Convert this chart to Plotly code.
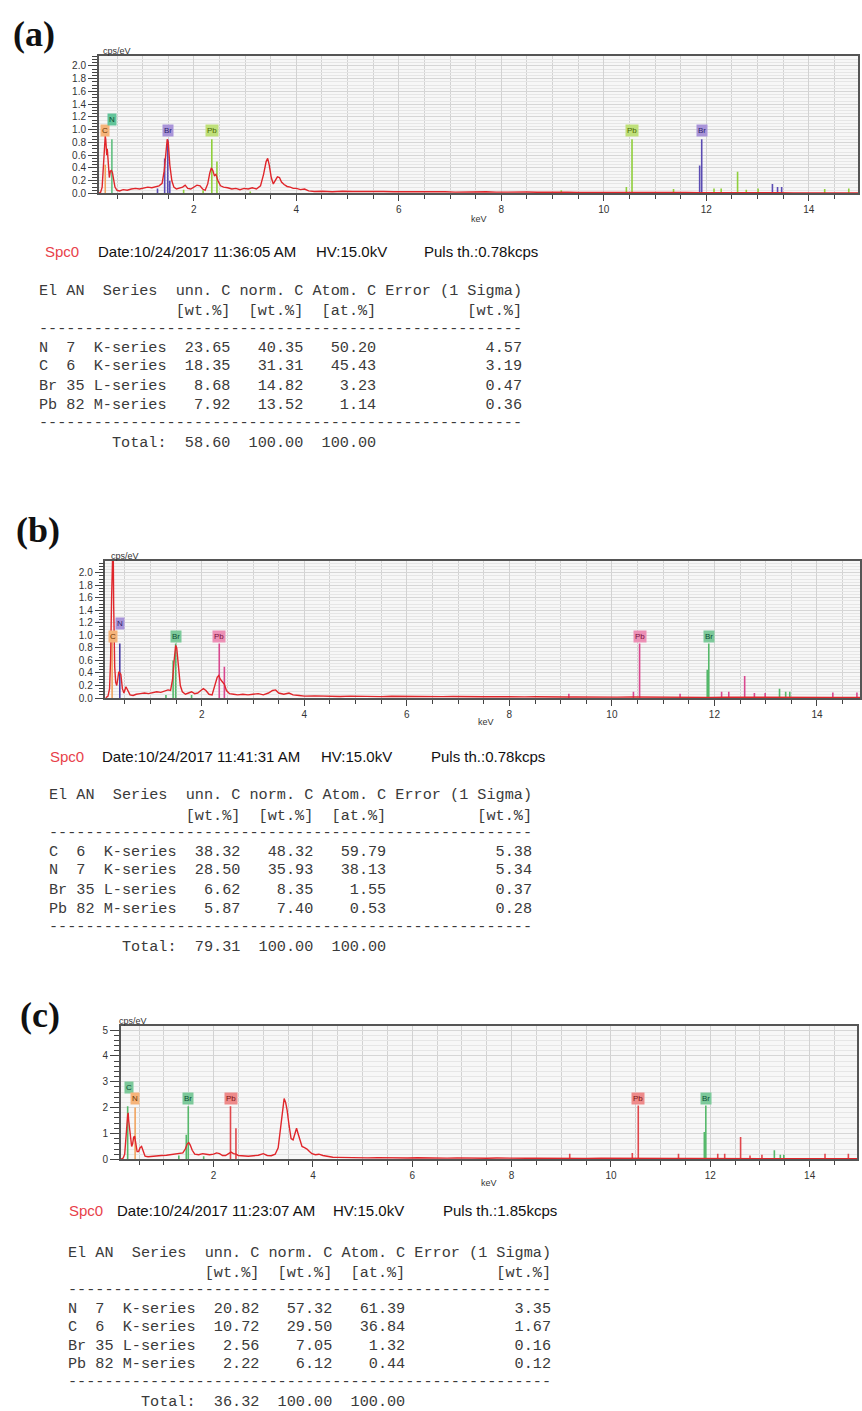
import plotly.graph_objects as go

W, H = 862, 1411

# ---------------- spectra (keV, cps/eV) ----------------
tail_x = [4.5, 4.7, 4.9, 5.1, 5.3, 5.5, 5.7, 5.9, 6.1, 6.3,
          6.5, 6.7, 6.9, 7.1, 7.3, 7.5, 7.7, 7.9, 8.1, 8.3,
          8.5, 8.7, 8.9, 9.1, 9.3, 9.5, 9.8, 10.1, 10.4, 10.7,
          11.0, 11.3, 11.6, 11.9, 12.2, 12.5, 12.8, 13.1, 13.4, 13.7,
          14.0, 14.3, 14.6, 14.96]

a_x = [0.14, 0.18, 0.21, 0.23, 0.25, 0.27, 0.28, 0.30, 0.31, 0.33,
       0.35, 0.37, 0.39, 0.41, 0.43, 0.46, 0.50, 0.55, 0.62, 0.70,
       0.78, 0.86, 0.94, 1.02, 1.10, 1.18, 1.26, 1.32, 1.38, 1.42,
       1.45, 1.48, 1.50, 1.53, 1.57, 1.61, 1.66, 1.72, 1.78, 1.83,
       1.88, 1.94, 2.00, 2.06, 2.12, 2.17, 2.22, 2.27, 2.31, 2.34,
       2.37, 2.40, 2.43, 2.47, 2.52, 2.58, 2.66, 2.74, 2.82, 2.90,
       2.98, 3.06, 3.14, 3.22, 3.30, 3.36, 3.41, 3.44, 3.47, 3.51,
       3.55, 3.59, 3.63, 3.67, 3.71, 3.76, 3.82, 3.88, 3.94, 4.00,
       4.08, 4.16, 4.24, 4.35] + tail_x
a_y = [0.00, 0.02, 0.10, 0.45, 0.75, 0.90, 0.85, 0.60, 0.70, 0.35,
       0.25, 0.35, 0.36, 0.33, 0.20, 0.10, 0.05, 0.04, 0.06, 0.05,
       0.07, 0.08, 0.07, 0.09, 0.10, 0.09, 0.11, 0.12, 0.16, 0.35,
       0.60, 0.85, 0.80, 0.45, 0.20, 0.10, 0.07, 0.08, 0.10, 0.13,
       0.08, 0.07, 0.10, 0.13, 0.12, 0.07, 0.05, 0.15, 0.32, 0.40,
       0.36, 0.28, 0.30, 0.20, 0.12, 0.10, 0.09, 0.07, 0.08, 0.06,
       0.08, 0.07, 0.09, 0.07, 0.12, 0.30, 0.50, 0.55, 0.45, 0.25,
       0.15, 0.20, 0.26, 0.25, 0.18, 0.14, 0.11, 0.10, 0.08, 0.08,
       0.06, 0.07, 0.04, 0.03,
       0.035, 0.028, 0.036, 0.030, 0.033, 0.026, 0.032, 0.028, 0.030, 0.024,
       0.029, 0.025, 0.028, 0.022, 0.027, 0.024, 0.026, 0.021, 0.025, 0.020,
       0.023, 0.019, 0.022, 0.018, 0.021, 0.017, 0.018, 0.015, 0.017, 0.014,
       0.016, 0.013, 0.015, 0.012, 0.014, 0.012, 0.013, 0.011, 0.012, 0.010,
       0.011, 0.010, 0.011, 0.010]

b_x = [0.12, 0.17, 0.20, 0.22, 0.24, 0.26, 0.27, 0.28, 0.30, 0.32,
       0.34, 0.36, 0.38, 0.40, 0.42, 0.45, 0.48, 0.52, 0.55, 0.60,
       0.66, 0.72, 0.80, 0.88, 0.96, 1.04, 1.12, 1.20, 1.28, 1.34,
       1.39, 1.43, 1.46, 1.49, 1.51, 1.54, 1.58, 1.62, 1.68, 1.74,
       1.80, 1.86, 1.92, 1.98, 2.03, 2.08, 2.14, 2.20, 2.26, 2.30,
       2.33, 2.36, 2.40, 2.44, 2.48, 2.54, 2.62, 2.70, 2.80, 2.90,
       3.00, 3.10, 3.20, 3.30, 3.38, 3.44, 3.50, 3.60, 3.70, 3.78,
       3.90, 4.00, 4.20, 4.35] + tail_x
b_y = [0.00, 0.03, 0.15, 0.60, 1.60, 2.60, 2.60, 1.50, 0.50, 0.25,
       0.20, 0.30, 0.42, 0.40, 0.38, 0.15, 0.08, 0.18, 0.12, 0.05,
       0.04, 0.06, 0.07, 0.08, 0.07, 0.09, 0.10, 0.09, 0.11, 0.13,
       0.12, 0.30, 0.60, 0.84, 0.80, 0.50, 0.20, 0.10, 0.06, 0.08,
       0.10, 0.07, 0.08, 0.12, 0.15, 0.12, 0.06, 0.05, 0.20, 0.33,
       0.36, 0.30, 0.26, 0.22, 0.12, 0.07, 0.06, 0.05, 0.06, 0.05,
       0.06, 0.07, 0.05, 0.08, 0.12, 0.13, 0.08, 0.06, 0.08, 0.05,
       0.04, 0.03, 0.035, 0.03,
       0.030, 0.024, 0.031, 0.026, 0.029, 0.023, 0.028, 0.025, 0.027, 0.021,
       0.026, 0.022, 0.025, 0.020, 0.024, 0.021, 0.023, 0.019, 0.022, 0.018,
       0.021, 0.017, 0.020, 0.016, 0.019, 0.015, 0.017, 0.014, 0.016, 0.013,
       0.015, 0.012, 0.014, 0.011, 0.013, 0.011, 0.012, 0.010, 0.011, 0.010,
       0.010, 0.009, 0.010, 0.009]

c_x = [0.13, 0.18, 0.21, 0.23, 0.25, 0.27, 0.28, 0.29, 0.31, 0.33,
       0.35, 0.37, 0.39, 0.41, 0.43, 0.46, 0.49, 0.52, 0.55, 0.58,
       0.62, 0.68, 0.75, 0.85, 0.95, 1.05, 1.15, 1.25, 1.32, 1.38,
       1.43, 1.47, 1.50, 1.53, 1.57, 1.62, 1.70, 1.78, 1.85, 1.92,
       2.00, 2.06, 2.12, 2.18, 2.24, 2.30, 2.35, 2.40, 2.45, 2.50,
       2.60, 2.70, 2.80, 2.90, 3.00, 3.08, 3.16, 3.24, 3.30, 3.35,
       3.39, 3.42, 3.45, 3.48, 3.52, 3.56, 3.60, 3.64, 3.67, 3.70,
       3.74, 3.78, 3.83, 3.88, 3.93, 3.98, 4.05, 4.12, 4.20, 4.30,
       4.40] + tail_x
c_y = [0.00, 0.05, 0.20, 0.60, 1.20, 1.70, 1.80, 1.50, 1.20, 0.80,
       0.50, 0.60, 0.85, 0.90, 0.60, 0.30, 0.30, 0.45, 0.50, 0.30,
       0.12, 0.10, 0.12, 0.13, 0.15, 0.16, 0.18, 0.20, 0.22, 0.25,
       0.40, 0.60, 0.65, 0.55, 0.35, 0.20, 0.18, 0.22, 0.20, 0.18,
       0.20, 0.25, 0.22, 0.15, 0.15, 0.22, 0.28, 0.22, 0.20, 0.15,
       0.13, 0.12, 0.14, 0.16, 0.22, 0.15, 0.14, 0.20, 0.45, 1.20,
       2.00, 2.35, 2.20, 1.90, 1.30, 0.80, 0.75, 1.05, 1.20, 1.00,
       0.70, 0.50, 0.45, 0.40, 0.30, 0.22, 0.18, 0.20, 0.15, 0.10,
       0.08,
       0.075, 0.060, 0.072, 0.058, 0.068, 0.055, 0.066, 0.052, 0.062, 0.050,
       0.060, 0.048, 0.057, 0.046, 0.055, 0.045, 0.052, 0.043, 0.050, 0.041,
       0.048, 0.040, 0.046, 0.038, 0.044, 0.036, 0.040, 0.034, 0.038, 0.032,
       0.036, 0.030, 0.034, 0.029, 0.032, 0.028, 0.030, 0.027, 0.029, 0.026,
       0.028, 0.025, 0.027, 0.025]

# ---------------- element marker lines ----------------
a_mark_el = ["C", "N", "Br", "Br", "Br", "Br", "Pb", "Pb", "Pb", "Pb", "Pb",
             "Pb", "Br", "Br",
             "Pb", "Pb", "Pb", "Pb", "Pb", "Pb", "Pb", "Pb", "Pb", "Pb",
             "Br", "Br", "Br"]
a_mark_x = [0.27, 0.40, 1.29, 1.43, 1.49, 1.53, 1.80, 2.18, 2.35, 2.45, 3.10,
            10.55, 11.87, 11.91,
            9.17, 10.44, 11.36, 12.15, 12.29, 12.61, 12.78, 13.01, 14.31, 14.78,
            13.29, 13.39, 13.47]
a_mark_h = [0.45, 0.85, 0.08, 0.55, 0.85, 0.20, 0.06, 0.05, 0.85, 0.50, 0.03,
            0.85, 0.44, 0.85,
            0.05, 0.10, 0.07, 0.08, 0.08, 0.34, 0.06, 0.08, 0.07, 0.08,
            0.15, 0.10, 0.10]

b_mark_el = ["C", "N", "Br", "Br", "Br", "Br", "Pb", "Pb",
             "Pb", "Br", "Br",
             "Pb", "Pb", "Pb", "Pb", "Pb", "Pb", "Pb", "Pb", "Pb", "Pb",
             "Br", "Br", "Br"]
b_mark_x = [0.25, 0.40, 1.30, 1.44, 1.49, 1.80, 2.34, 2.44,
            10.54, 11.86, 11.89,
            9.16, 10.42, 11.33, 12.14, 12.28, 12.59, 12.78, 12.99, 14.31, 14.78,
            13.27, 13.39, 13.47]
b_mark_h = [0.95, 0.87, 0.05, 0.60, 0.87, 0.05, 0.87, 0.50,
            0.87, 0.45, 0.87,
            0.07, 0.10, 0.07, 0.10, 0.10, 0.35, 0.08, 0.08, 0.09, 0.09,
            0.15, 0.10, 0.10]

c_mark_el = ["C", "N", "Br", "Br", "Br", "Br", "Pb", "Pb",
             "Pb", "Br", "Br",
             "Pb", "Pb", "Pb", "Pb", "Pb", "Pb", "Pb", "Pb", "Pb", "Pb",
             "Br", "Br", "Br"]
c_mark_x = [0.27, 0.42, 1.30, 1.45, 1.49, 1.80, 2.34, 2.45,
            10.55, 11.88, 11.91,
            9.17, 10.43, 11.36, 12.15, 12.29, 12.61, 12.80, 13.04, 14.31, 14.78,
            13.29, 13.41, 13.48]
c_mark_h = [2.05, 2.00, 0.15, 0.95, 2.05, 0.12, 2.05, 1.20,
            2.08, 1.06, 2.08,
            0.22, 0.25, 0.22, 0.22, 0.22, 0.86, 0.15, 0.18, 0.22, 0.22,
            0.35, 0.18, 0.18]

# element label boxes (element, keV, cps/eV)
a_lab_el = ["C", "N", "Br", "Pb", "Pb", "Br"]
a_lab_x = [0.27, 0.40, 1.49, 2.35, 10.55, 11.91]
a_lab_y = [0.98, 1.16, 0.98, 0.98, 0.98, 0.98]
b_lab_el = ["C", "N", "Br", "Pb", "Pb", "Br"]
b_lab_x = [0.27, 0.40, 1.49, 2.33, 10.54, 11.89]
b_lab_y = [0.99, 1.19, 0.99, 0.99, 0.99, 0.99]
c_lab_el = ["C", "N", "Br", "Pb", "Pb", "Br"]
c_lab_x = [0.29, 0.42, 1.48, 2.35, 10.55, 11.91]
c_lab_y = [2.78, 2.35, 2.35, 2.35, 2.35, 2.35]

# ---------------- quantification tables ----------------
a_el = ["N", "C", "Br", "Pb"]
a_an = ["7", "6", "35", "82"]
a_ser = ["K-series", "K-series", "L-series", "M-series"]
a_unn = [23.65, 18.35, 8.68, 7.92]
a_norm = [40.35, 31.31, 14.82, 13.52]
a_atom = [50.20, 45.43, 3.23, 1.14]
a_err = [4.57, 3.19, 0.47, 0.36]
a_total = [58.60, 100.00, 100.00]
a_date = "10/24/2017 11:36:05 AM"
a_puls = "0.78"

b_el = ["C", "N", "Br", "Pb"]
b_an = ["6", "7", "35", "82"]
b_ser = ["K-series", "K-series", "L-series", "M-series"]
b_unn = [38.32, 28.50, 6.62, 5.87]
b_norm = [48.32, 35.93, 8.35, 7.40]
b_atom = [59.79, 38.13, 1.55, 0.53]
b_err = [5.38, 5.34, 0.37, 0.28]
b_total = [79.31, 100.00, 100.00]
b_date = "10/24/2017 11:41:31 AM"
b_puls = "0.78"

c_el = ["N", "C", "Br", "Pb"]
c_an = ["7", "6", "35", "82"]
c_ser = ["K-series", "K-series", "L-series", "M-series"]
c_unn = [20.82, 10.72, 2.56, 2.22]
c_norm = [57.32, 29.50, 7.05, 6.12]
c_atom = [61.39, 36.84, 1.32, 0.44]
c_err = [3.35, 1.67, 0.16, 0.12]
c_total = [36.32, 100.00, 100.00]
c_date = "10/24/2017 11:23:07 AM"
c_puls = "1.85"

# ---------------- styling ----------------
line_colors = {
    "a": {"C": "#f0a35e", "N": "#5fbf7f", "Br": "#5b4cb3", "Pb": "#8fcf3c"},
    "b": {"C": "#f0a35e", "N": "#4a3fa6", "Br": "#55b86a", "Pb": "#d9488f"},
    "c": {"C": "#55b86a", "N": "#f0a35e", "Br": "#55b86a", "Pb": "#e0474c"},
}
box_colors = {
    "a": {"C": ("#f6b47a", "#6a3300"), "N": ("#62c49a", "#0d4d33"),
          "Br": ("#a994d9", "#2e1f6b"), "Pb": ("#bfe07a", "#4a6400")},
    "b": {"C": ("#f6b47a", "#6a3300"), "N": ("#a994d9", "#2e1f6b"),
          "Br": ("#7cc99a", "#0d4d33"), "Pb": ("#ec8fb5", "#7a1040")},
    "c": {"C": ("#7cc99a", "#0d4d33"), "N": ("#f6b47a", "#6a3300"),
          "Br": ("#7cc99a", "#0d4d33"), "Pb": ("#ee8a8a", "#7a1010")},
}
SPEC_COLOR = "#e0262b"


def px(x):
    return x / W


def py(y):
    return 1 - y / H


panels = [
    dict(key="a", sx=a_x, sy=a_y, mel=a_mark_el, mx=a_mark_x, mh=a_mark_h,
         lel=a_lab_el, lx=a_lab_x, ly=a_lab_y,
         xd=(99, 860), yd=(55, 193.3), xr=(0.144, 14.96), yr=(0, 2.16),
         ydt=0.2, ymin=0.05, yfmt=".1f"),
    dict(key="b", sx=b_x, sy=b_y, mel=b_mark_el, mx=b_mark_x, mh=b_mark_h,
         lel=b_lab_el, lx=b_lab_x, ly=b_lab_y,
         xd=(105.7, 862), yd=(562.3, 700), xr=(0.12, 14.84), yr=(0, 2.19),
         ydt=0.2, ymin=0.05, yfmt=".1f"),
    dict(key="c", sx=c_x, sy=c_y, mel=c_mark_el, mx=c_mark_x, mh=c_mark_h,
         lel=c_lab_el, lx=c_lab_x, ly=c_lab_y,
         xd=(121, 859.3), yd=(1029, 1163.3), xr=(0.13, 14.96), yr=(0, 5.17),
         ydt=1, ymin=0.2, yfmt="d"),
]

fig = go.Figure()
annotations = []
layout_axes = {}

for i, p in enumerate(panels):
    n = "" if i == 0 else str(i + 1)
    xref, yref = "x" + n, "y" + n
    k = p["key"]
    for el in ["C", "N", "Br", "Pb"]:
        xs, ys = [], []
        for e, x, h in zip(p["mel"], p["mx"], p["mh"]):
            if e == el:
                xs += [x, x, None]
                ys += [0, h, None]
        if xs:
            fig.add_trace(go.Scatter(x=xs, y=ys, mode="lines", xaxis=xref, yaxis=yref,
                                     line=dict(color=line_colors[k][el], width=1.6),
                                     showlegend=False, hoverinfo="skip"))
    fig.add_trace(go.Scatter(x=p["sx"], y=p["sy"], mode="lines", xaxis=xref, yaxis=yref,
                             line=dict(color=SPEC_COLOR, width=1.4),
                             showlegend=False, hoverinfo="skip"))
    for el, x, y in zip(p["lel"], p["lx"], p["ly"]):
        bg, fg = box_colors[k][el]
        annotations.append(dict(x=x, y=y, xref=xref, yref=yref, text=el, showarrow=False,
                                font=dict(size=8, color=fg, family="Liberation Sans"),
                                bgcolor=bg, borderpad=1, xanchor="center", yanchor="middle"))

    tickfont = dict(size=10, color="#333", family="Liberation Sans")
    layout_axes["xaxis" + n] = dict(
        domain=[px(p["xd"][0]), px(p["xd"][1])], range=list(p["xr"]), anchor=yref,
        showline=True, linecolor="#555", linewidth=1.5, mirror=True,
        ticks="outside", ticklen=6, tickcolor="#444", tickwidth=1, dtick=2, tick0=0,
        showgrid=True, gridcolor="#d2d2d2", gridwidth=1, zeroline=False,
        minor=dict(dtick=0.5, tick0=0, ticks="outside", ticklen=4, tickcolor="#444",
                   showgrid=True, gridcolor="#d2d2d2", gridwidth=1),
        tickfont=tickfont, fixedrange=True)
    layout_axes["yaxis" + n] = dict(
        domain=[py(p["yd"][1]), py(p["yd"][0])], range=list(p["yr"]), anchor=xref,
        showline=True, linecolor="#555", linewidth=1.5, mirror=True,
        ticks="outside", ticklen=9, tickcolor="#444", tickwidth=1, dtick=p["ydt"], tick0=0,
        tickformat=p["yfmt"],
        showgrid=True, gridcolor="#d6d6d6", gridwidth=1, zeroline=False,
        minor=dict(dtick=p["ymin"], tick0=0, ticks="outside", ticklen=5, tickcolor="#444",
                   showgrid=True, gridcolor="#e6e6e6", gridwidth=1),
        tickfont=tickfont, fixedrange=True)

unit_pos = [
    ((117, 50), (480, 219)),
    ((125, 557), (487, 724)),
    ((133, 1024), (490, 1187)),
]
for (cx, cy), (kx, ky) in unit_pos:
    annotations.append(dict(x=px(cx), y=py(cy), xref="paper", yref="paper", text="cps/eV",
                            showarrow=False, font=dict(size=9, color="#333", family="Liberation Sans"),
                            xanchor="center", yanchor="middle"))
    annotations.append(dict(x=px(kx), y=py(ky), xref="paper", yref="paper", text="keV",
                            showarrow=False, font=dict(size=9, color="#333", family="Liberation Sans"),
                            xanchor="center", yanchor="middle"))

for txt, (lx, ly) in zip(["(a)", "(b)", "(c)"], [(34, 33), (38, 531), (40, 1018)]):
    annotations.append(dict(x=px(lx), y=py(ly), xref="paper", yref="paper",
                            text="<b>" + txt + "</b>", showarrow=False,
                            font=dict(size=36, color="#111", family="Liberation Serif"),
                            xanchor="center", yanchor="middle"))

NB = "\u00a0"


def mono(s):
    return s.replace(" ", NB)


HDR1 = "El AN  Series  unn. C norm. C Atom. C Error (1 Sigma)"
HDR2 = "               [wt.%]  [wt.%]  [at.%]          [wt.%]"
DASH = "-" * 53
OFFS = [0, 20.6, 38.3, 57.3, 75.6, 95.0, 114.0, 132.6, 152.6]

tables = [
    dict(el=a_el, an=a_an, ser=a_ser, unn=a_unn, norm=a_norm, atom=a_atom, err=a_err,
         total=a_total, date=a_date, puls=a_puls,
         x0=37, yh=291, span=153.3, spc_y=251.7, spc_x=(43, 96.7, 315, 423.3)),
    dict(el=b_el, an=b_an, ser=b_ser, unn=b_unn, norm=b_norm, atom=b_atom, err=b_err,
         total=b_total, date=b_date, puls=b_puls,
         x0=47, yh=797.5, span=152.6, spc_y=758.3, spc_x=(48.3, 100, 320, 430)),
    dict(el=c_el, an=c_an, ser=c_ser, unn=c_unn, norm=c_norm, atom=c_atom, err=c_err,
         total=c_total, date=c_date, puls=c_puls,
         x0=66, yh=1257.5, span=149.0, spc_y=1215, spc_x=(67.3, 115, 331.7, 441.7)),
]

for t in tables:
    lines = [HDR1, HDR2, DASH]
    for el, an, ser, u, nm, at, er in zip(t["el"], t["an"], t["ser"], t["unn"],
                                          t["norm"], t["atom"], t["err"]):
        lines.append(f"{el:<2} {an:<2} {ser}{u:>7.2f}{nm:>8.2f}{at:>8.2f}{er:>16.2f}")
    lines.append(DASH)
    tu, tn, ta = t["total"]
    lines.append(f"        Total:{tu:>7.2f}{tn:>8.2f}{ta:>8.2f}")
    for ln, off in zip(lines, OFFS):
        yy = t["yh"] + off * t["span"] / 152.6
        annotations.append(dict(x=px(t["x0"]), y=py(yy), xref="paper", yref="paper",
                                text=mono(ln), showarrow=False,
                                font=dict(size=15.2, color="#3a3a3a", family="Liberation Mono"),
                                xanchor="left", yanchor="middle"))
    spc_txt = ["Spc0", "Date:" + t["date"], "HV:15.0kV", "Puls th.:" + t["puls"] + "kcps"]
    spc_col = ["#e8414a", "#111", "#111", "#111"]
    for s, sx, sc in zip(spc_txt, t["spc_x"], spc_col):
        annotations.append(dict(x=px(sx), y=py(t["spc_y"]), xref="paper", yref="paper",
                                text=s, showarrow=False,
                                font=dict(size=15, color=sc, family="Liberation Sans"),
                                xanchor="left", yanchor="middle"))

fig.update_layout(
    width=W, height=H, autosize=False,
    margin=dict(l=0, r=0, t=0, b=0),
    paper_bgcolor="white", plot_bgcolor="#f7f7f7",
    showlegend=False, annotations=annotations,
    **layout_axes,
)

fig.write_html("out.html")
